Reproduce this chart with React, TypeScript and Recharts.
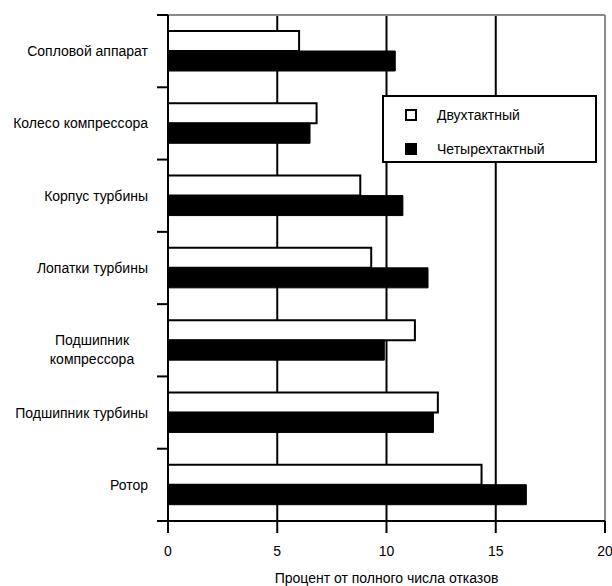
import React from 'react';
import { BarChart, Bar, XAxis, YAxis, CartesianGrid, Legend } from 'recharts';

const categories = [
  'Сопловой аппарат',
  'Колесо компрессора',
  'Корпус турбины',
  'Лопатки турбины',
  'Подшипник\nкомпрессора',
  'Подшипник турбины',
  'Ротор',
];
const twoStroke = [6.0, 6.8, 8.8, 9.3, 11.3, 12.35, 14.35];
const fourStroke = [10.4, 6.5, 10.75, 11.9, 9.9, 12.15, 16.4];
const xTicks = [0, 5, 10, 15, 20];
const seriesNames = ['Двухтактный', 'Четырехтактный'];
const xTitle = 'Процент от полного числа отказов';

const data = categories.map((c, i) => ({ name: c, two: twoStroke[i], four: fourStroke[i] }));

const FONT = '"Liberation Sans", Arial, sans-serif';
const W = 612;
const H = 586;
const MARGIN = { top: 15, right: 7, left: 0, bottom: 0 };
const Y_W = 168;
const X_H = 65;
const BAND = (H - MARGIN.top - MARGIN.bottom - X_H) / categories.length;
const FRAME = '#8a8a8a';
// plot-area frame edges (top and right), derived from the layout constants
const FRAME_TOP = [MARGIN.top];
const FRAME_RIGHT = [W - MARGIN.right];

const YTick = (props: any) => {
  const { x, y, payload, index } = props;
  const off = payload && typeof payload.offset === 'number' && payload.offset > 0 ? payload.offset : BAND / 2;
  const lines = String(payload.value).split('\n');
  const isLast = index === categories.length - 1;
  return (
    <g>
      <line x1={x - 11} x2={x} y1={y - off} y2={y - off} stroke="#000" strokeWidth={2} />
      {isLast && <line x1={x - 11} x2={x} y1={y + off} y2={y + off} stroke="#000" strokeWidth={2} />}
      {lines.length === 1 ? (
        <text x={x - 20} y={y + 5} textAnchor="end" fontSize={14} fontFamily={FONT} fill="#000">
          {lines[0]}
        </text>
      ) : (
        lines.map((l, i) => (
          <text key={i} x={x - 76} y={y + 5 + i * 19} textAnchor="middle" fontSize={14} fontFamily={FONT} fill="#000">
            {l}
          </text>
        ))
      )}
    </g>
  );
};

const LegendBox = () => (
  <div
    style={{
      width: 215,
      height: 68,
      boxSizing: 'border-box',
      border: '2px solid #000',
      background: '#fff',
      fontFamily: FONT,
      fontSize: 14,
      color: '#000',
      position: 'relative',
    }}
  >
    {seriesNames.map((n, i) => (
      <div key={n} style={{ position: 'absolute', left: 21, top: 10 + i * 34, height: 16, display: 'flex', alignItems: 'center' }}>
        <span
          style={{
            display: 'inline-block',
            width: 12,
            height: 12,
            boxSizing: 'border-box',
            border: '2px solid #000',
            background: i === 0 ? '#fff' : '#000',
          }}
        />
        <span style={{ marginLeft: 20, lineHeight: '16px' }}>{n}</span>
      </div>
    ))}
  </div>
);

export default function App() {
  return (
    <div style={{ position: 'absolute', left: 0, top: 0, width: W, height: H, background: '#fff' }}>
      <BarChart
        width={W}
        height={H}
        data={data}
        layout="vertical"
        margin={MARGIN}
        barGap={0}
        barSize={20}
      >
        <CartesianGrid horizontal={false} stroke="#000" strokeWidth={2} />
        <CartesianGrid
          horizontalPoints={FRAME_TOP}
          verticalPoints={FRAME_RIGHT}
          stroke={FRAME}
          strokeWidth={2}
        />
        <XAxis
          type="number"
          domain={[0, 20]}
          ticks={xTicks}
          interval={0}
          height={X_H}
          tickSize={12}
          tickMargin={13}
          axisLine={{ stroke: '#000', strokeWidth: 2 }}
          tickLine={{ stroke: '#000', strokeWidth: 2 }}
          tick={{ fill: '#000', fontSize: 14, fontFamily: FONT }}
          label={{ value: xTitle, position: 'insideBottom', offset: 3, fill: '#000', fontSize: 14, fontFamily: FONT }}
        />
        <YAxis
          type="category"
          dataKey="name"
          width={Y_W}
          interval={0}
          tickLine={false}
          tickSize={0}
          tickMargin={0}
          axisLine={{ stroke: '#000', strokeWidth: 2 }}
          tick={<YTick />}
        />
        <Bar dataKey="two" name={seriesNames[0]} fill="#fff" stroke="#000" strokeWidth={2} isAnimationActive={false} />
        <Bar dataKey="four" name={seriesNames[1]} fill="#000" stroke="#000" strokeWidth={1} isAnimationActive={false} />
        <Legend
          layout="vertical"
          align="center"
          verticalAlign="middle"
          content={<LegendBox />}
          wrapperStyle={{ position: 'absolute', left: 382, top: 95, width: 215, height: 68 }}
        />
      </BarChart>
    </div>
  );
}
